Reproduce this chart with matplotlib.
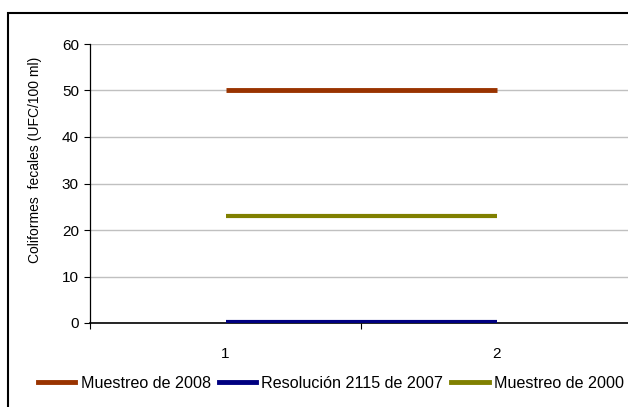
import matplotlib
matplotlib.use("Agg")
import matplotlib.pyplot as plt
from matplotlib.patches import Rectangle
from matplotlib.lines import Line2D

plt.rcParams['font.family'] = ['Liberation Sans', 'DejaVu Sans']

categories = [1, 2]
series_names = ["Muestreo de 2008", "Resolución 2115 de 2007", "Muestreo de 2000"]
muestreo_2008 = [50, 50]
resolucion_2115 = [0.2, 0.2]
muestreo_2000 = [23, 23]
colors = ["#993300", "#000080", "#808000"]
widths = [3.5, 3, 3]
yticks = [0, 10, 20, 30, 40, 50, 60]

W, H = 628, 407
fig = plt.figure(figsize=(W / 100, H / 100), dpi=100)
fig.patch.set_facecolor("white")

# outer chart border (extends beyond right/bottom edges)
fig.patches.append(Rectangle((8 / W, -0.1), 1.2, (H - 13) / H + 0.1,
                             transform=fig.transFigure, fill=False,
                             edgecolor="black", linewidth=1.5, zorder=0))

ax_left, ax_right = 90, 632
ax = fig.add_axes([ax_left / W, (H - 323) / H, (ax_right - ax_left) / W, (323 - 44) / H])
x = list(range(len(categories)))
for vals, name, c, lw in zip([muestreo_2008, resolucion_2115, muestreo_2000],
                             series_names, colors, widths):
    ax.plot(x, vals, color=c, linewidth=lw, label=name, solid_capstyle="butt", zorder=3)

ax.set_xlim(-0.5, len(categories) - 0.5)
ax.set_ylim(0, 60)
ax.set_yticks(yticks)
ax.set_xticks(x)
ax.set_xticklabels([str(c) for c in categories], fontsize=11)
ax.set_xticks([i - 0.5 for i in range(len(categories) + 1)], minor=True)
ax.tick_params(axis="x", which="major", length=0, pad=17)
ax.tick_params(axis="x", which="minor", length=4, direction="out", width=0.8)
ax.tick_params(axis="y", length=4, direction="out", labelsize=11, width=0.8, pad=4)
ax.yaxis.grid(True, color="#C0C0C0", linewidth=1)
ax.set_axisbelow(True)
for s in ["top", "right"]:
    ax.spines[s].set_visible(False)
ax.spines["left"].set_linewidth(0.9)
ax.spines["bottom"].set_linewidth(1.2)
ax.set_ylabel("Coliformes  fecales (UFC/100 ml)", fontsize=10)
ax.yaxis.set_label_coords((35 - ax_left) / (ax_right - ax_left), (323 - 160) / (323 - 44))
ax.yaxis.label.set_verticalalignment("center")

handles = [Line2D([0], [0], color=c, linewidth=3.5) for c in colors]
fig.legend(handles, series_names, loc="center", bbox_to_anchor=(331 / W, 1 - 383 / H),
           ncol=3, frameon=False, fontsize=11.6, handlelength=2.3,
           handletextpad=0.35, columnspacing=0.5, borderpad=0, borderaxespad=0)

fig.savefig("out.png", dpi=100)
